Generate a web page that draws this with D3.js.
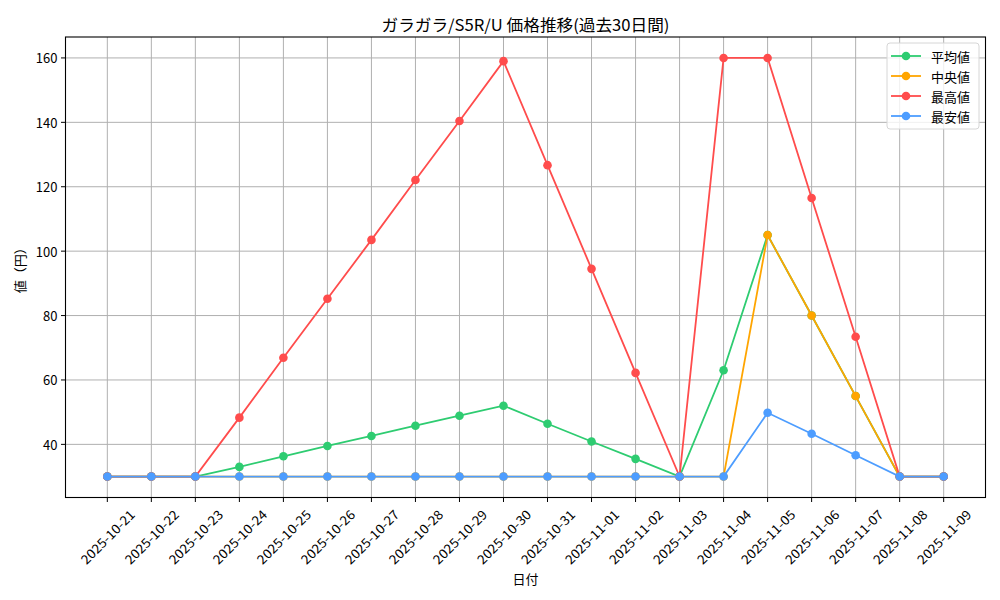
<!DOCTYPE html>
<html><head><meta charset="utf-8">
<script src="https://cdn.jsdelivr.net/npm/d3@7"></script>
<style>body{margin:0;background:#fff;} text{font-family:"Noto Sans CJK JP","Noto Sans",sans-serif;}</style>
</head><body>
<svg id="c" width="1000" height="600"></svg>
<script>
const dates = ["2025-10-21","2025-10-22","2025-10-23","2025-10-24","2025-10-25","2025-10-26","2025-10-27","2025-10-28","2025-10-29","2025-10-30","2025-10-31","2025-11-01","2025-11-02","2025-11-03","2025-11-04","2025-11-05","2025-11-06","2025-11-07","2025-11-08","2025-11-09"];
const avgValues = [30,30,30,33,36.3,39.5,42.6,45.8,48.9,52,46.4,40.9,35.5,30,63,105,80,55,30,30];
const medianValues = [30,30,30,30,30,30,30,30,30,30,30,30,30,30,30,105,80,55,30,30];
const maxValues = [30,30,30,48.3,66.9,85.2,103.5,122.1,140.4,159,126.7,94.5,62.2,30,160,160,116.5,73.4,30,30];
const minValues = [30,30,30,30,30,30,30,30,30,30,30,30,30,30,30,49.8,43.3,36.6,30,30];
const yTicks = [40,60,80,100,120,140,160];
const seriesNames = ["平均値","中央値","最高値","最安値"];
const seriesColors = ["#2ecc71","#ffa500","#ff4c4c","#4d9dff"];
const title = "ガラガラ/S5R/U 価格推移(過去30日間)";
const xLabel = "日付", yLabel = "値（円）";

const series = [avgValues, medianValues, maxValues, minValues].map((v,i)=>({name:seriesNames[i], color:seriesColors[i], values:v}));

const L=65.5, R=985.5, T=37, B=497.5;
const svg = d3.select("#c");
const x = d3.scaleLinear().domain([-0.95, dates.length-1+0.95]).range([L,R]);
const yMin = 30, yMax = 160, pad = (yMax-yMin)*0.05;
const y = d3.scaleLinear().domain([yMin-pad, yMax+pad]).range([B,T]);

// grid
const g = svg.append("g");
g.selectAll(".vg").data(dates).enter().append("line")
  .attr("x1",(d,i)=>x(i)).attr("x2",(d,i)=>x(i)).attr("y1",T).attr("y2",B)
  .attr("stroke","#b0b0b0").attr("stroke-width",1);
g.selectAll(".hg").data(yTicks).enter().append("line")
  .attr("x1",L).attr("x2",R).attr("y1",d=>y(d)).attr("y2",d=>y(d))
  .attr("stroke","#b0b0b0").attr("stroke-width",1);

// lines
const line = d3.line().x((d,i)=>x(i)).y(d=>y(d));
series.forEach(s=>{
  const sg = svg.append("g");
  sg.append("path").attr("d",line(s.values)).attr("fill","none").attr("stroke",s.color).attr("stroke-width",1.8);
  sg.selectAll("circle").data(s.values).enter().append("circle")
    .attr("cx",(d,i)=>x(i)).attr("cy",d=>y(d)).attr("r",4.3).attr("fill",s.color);
});

// frame
svg.append("rect").attr("x",L).attr("y",T).attr("width",R-L).attr("height",B-T).attr("fill","none").attr("stroke","#000").attr("stroke-width",1.1);

// x ticks
const xt = svg.append("g");
dates.forEach((d,i)=>{
  xt.append("line").attr("x1",x(i)).attr("x2",x(i)).attr("y1",B).attr("y2",B+4.5).attr("stroke","#000");
  xt.append("text").attr("transform",`translate(${x(i)},${B+39}) rotate(-45)`)
    .attr("text-anchor","middle").attr("dominant-baseline","central")
    .attr("font-size",13).attr("textLength",70).attr("lengthAdjust","spacingAndGlyphs").text(d);
});
// y ticks
const yt = svg.append("g");
yTicks.forEach(v=>{
  yt.append("line").attr("x1",L-4.5).attr("x2",L).attr("y1",y(v)).attr("y2",y(v)).attr("stroke","#000");
  yt.append("text").attr("x",L-8).attr("y",y(v)).attr("text-anchor","end").attr("dominant-baseline","central")
    .attr("font-size",13).text(v);
});

svg.append("text").attr("x",(L+R)/2).attr("y",24).attr("text-anchor","middle").attr("dominant-baseline","central")
  .attr("font-size",16).attr("textLength",288).attr("lengthAdjust","spacingAndGlyphs").text(title);
svg.append("text").attr("x",(L+R)/2).attr("y",578).attr("text-anchor","middle").attr("dominant-baseline","central")
  .attr("font-size",13).text(xLabel);
svg.append("text").attr("transform",`translate(19,${(T+B)/2}) rotate(-90)`).attr("text-anchor","middle").attr("dominant-baseline","central")
  .attr("font-size",13).text(yLabel);

// legend
const lg = svg.append("g");
lg.append("rect").attr("x",887).attr("y",43).attr("width",92).attr("height",86).attr("rx",3)
  .attr("fill","#fff").attr("fill-opacity",0.8).attr("stroke","#d6d6d6");
series.forEach((s,i)=>{
  const yy = 56 + i*20;
  lg.append("line").attr("x1",891).attr("x2",921).attr("y1",yy).attr("y2",yy).attr("stroke",s.color).attr("stroke-width",1.8);
  lg.append("circle").attr("cx",906).attr("cy",yy).attr("r",4.3).attr("fill",s.color);
  lg.append("text").attr("x",931).attr("y",yy).attr("dominant-baseline","central").attr("font-size",13).text(s.name);
});
</script>
</body></html>
